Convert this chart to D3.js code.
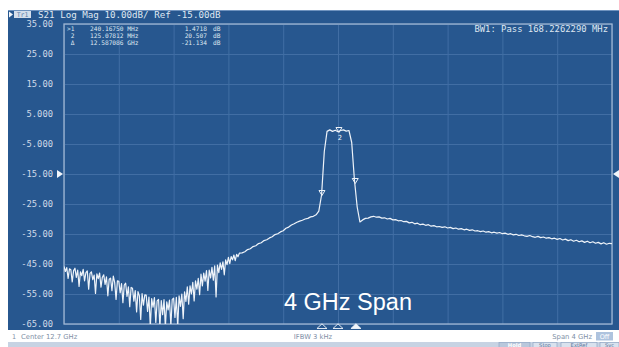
<!DOCTYPE html>
<html><head><meta charset="utf-8">
<script src="https://cdn.jsdelivr.net/npm/d3@7"></script>
<style>html,body{margin:0;padding:0;background:#fff;}svg{display:block;}</style>
</head><body>
<script>
// ---- data ----
// low band sweep: 10.70 .. 11.98 GHz, 0.01 GHz step (129 points)
const lowBandStartGHz = 10.7, lowBandStepGHz = 0.01;
const lowBandDb = [
-45.8,-47.5,-46.2,-49.8,-46.6,-46.9,-51.0,-47.2,-46.4,-49.5,
-47.0,-52.5,-47.6,-48.9,-46.8,-50.6,-47.9,-47.3,-53.4,-48.1,
-47.6,-50.2,-48.7,-54.8,-48.3,-49.9,-48.0,-52.7,-49.4,-48.6,
-51.8,-49.3,-55.6,-50.1,-49.7,-53.9,-49.0,-51.2,-56.8,-50.6,
-50.8,-54.6,-51.5,-57.9,-52.0,-51.4,-55.8,-52.6,-59.2,-52.8,
-53.1,-57.4,-53.9,-61.0,-54.2,-55.6,-63.5,-54.9,-58.7,-55.3,
-55.4,-60.8,-56.0,-66.0,-56.5,-59.4,-56.2,-64.5,-57.3,-56.8,
-66.0,-57.2,-61.9,-56.9,-66.0,-57.6,-60.3,-57.0,-65.5,-56.8,
-56.4,-62.8,-56.1,-66.0,-55.6,-59.1,-55.0,-63.2,-54.3,-57.5,
-52.6,-58.4,-52.3,-55.0,-51.1,-57.3,-50.6,-53.4,-49.8,-55.2,
-48.4,-52.3,-48.0,-50.7,-47.2,-53.8,-47.0,-49.6,-46.1,-50.4,
-45.6,-56.0,-45.4,-47.9,-44.6,-46.8,-44.3,-48.6,-43.6,-45.2,
-42.8,-44.9,-42.5,-43.6,-42.0,-43.9,-41.8,-42.6,-41.4];
// main sweep: 12.00 .. 14.70 GHz, 0.02 GHz step (136 points)
const mainStartGHz = 12.0, mainStepGHz = 0.02;
const mainDb = [
-41.3,-40.9,-40.2,-39.9,-39.2,
-38.9,-38.2,-37.9,-37.2,-36.9,-36.3,-35.9,-35.2,-34.9,-34.3,
-33.9,-33.1,-32.7,-32.0,-31.6,-31.1,-30.7,-30.4,-30.0,-29.8,
-29.3,-29.1,-28.6,-27.4,-22.0,-7.5,-0.8,-0.3,-0.8,-0.4,
-0.9,-0.5,-0.3,-0.7,-0.5,-4.5,-17.0,-26.0,-31.0,-30.3,
-29.8,-29.7,-29.3,-29.1,-29.4,-29.3,-29.7,-29.6,-30.0,-29.8,
-30.3,-30.2,-30.6,-30.5,-30.9,-30.8,-31.3,-31.1,-31.6,-31.4,
-31.9,-31.7,-32.1,-31.9,-32.4,-32.2,-32.6,-32.5,-32.8,-32.6,
-33.0,-32.8,-33.2,-33.0,-33.4,-33.2,-33.6,-33.4,-33.8,-33.6,
-34.0,-33.9,-34.2,-34.0,-34.4,-34.2,-34.6,-34.4,-34.7,-34.5,
-34.9,-34.7,-35.1,-34.9,-35.3,-35.1,-35.5,-35.3,-35.6,-35.8,
-35.5,-35.9,-36.1,-35.8,-36.2,-36.0,-36.4,-36.2,-36.6,-36.4,
-36.8,-36.5,-37.0,-36.7,-37.2,-36.9,-37.4,-37.1,-37.6,-37.3,
-37.8,-37.4,-37.9,-37.6,-38.1,-37.8,-38.3,-37.9,-38.4,-38.1,
-38.2];
const yTickValues = [35,25,15,5,-5,-15,-25,-35,-45,-55,-65];
const yTickLabels = ["35.00","25.00","15.00","5.000","-5.000","-15.00","-25.00","-35.00","-45.00","-55.00","-65.00"];
const xGridValues = [10.7,11.1,11.5,11.9,12.3,12.7,13.1,13.5,13.9,14.3,14.7];
const markerFreq = [12.707, 12.583, 12.826];
const markerDb   = [-0.5, -21.5, -17.5];
const markerTag  = ["2", "", ""];
const bottomMarkerFreq = [12.583, 12.7, 12.831];
const bottomMarkerActive = [false, false, true];
const markerRows = [[">1","240.16750 MHz","1.4718","dB"],[" 2","125.07812 MHz","20.507","dB"],[" \u0394","12.587086 GHz","-21.134","dB"]];
const titleText = "S21 Log Mag 10.00dB/ Ref -15.00dB";
const bwText = "BW1: Pass 168.2262290 MHz";
const refLevel = -15;
const spanLabel = "4 GHz Span";
const statusTexts = ["Center 12.7 GHz","IFBW 3 kHz","Span 4 GHz"];
const buttonLabels = ["Hold","Stop","ExtRef","Svc"];

// ---- drawing ----
const W = 619, H = 347;
const BG = "#27578f", GRID = "#416ea4", BORDER = "#9fb6d3", TXT = "#cfdae8";
const svg = d3.select("body").append("svg").attr("width", W).attr("height", H);
const x = d3.scaleLinear().domain([10.7, 14.7]).range([64, 612]);
const y = d3.scaleLinear().domain([-65, 35]).range([324, 24]);
const mono = "'DejaVu Sans Mono', monospace";

svg.append("rect").attr("x", 8).attr("y", 10).attr("width", W - 8).attr("height", 320).attr("fill", BG);
svg.append("line").attr("x1", 8).attr("x2", W).attr("y1", 10.5).attr("y2", 10.5).attr("stroke", "#6f93bf").attr("stroke-width", 1);

// grid via axes
const gy = svg.append("g").attr("transform", "translate(64,0)")
  .call(d3.axisLeft(y).tickValues(yTickValues).tickSize(-548).tickFormat((d, i) => yTickLabels[i]).tickPadding(10));
gy.select(".domain").remove();
gy.selectAll(".tick line").attr("stroke", GRID).attr("stroke-width", 1);
gy.selectAll(".tick text").attr("fill", TXT).attr("font-family", mono).attr("font-size", 8.8).attr("x", -11);

const gx = svg.append("g").attr("transform", "translate(0,324)")
  .call(d3.axisBottom(x).tickValues(xGridValues).tickSize(-300).tickFormat(""));
gx.select(".domain").remove();
gx.selectAll(".tick line").attr("stroke", GRID).attr("stroke-width", 1);

svg.append("rect").attr("x", 64).attr("y", 24).attr("width", 548).attr("height", 300)
  .attr("fill", "none").attr("stroke", BORDER).attr("stroke-width", 1.3);

// trace
svg.append("clipPath").attr("id", "clip").append("rect").attr("x", 64).attr("y", 24).attr("width", 548).attr("height", 300);
const pts = lowBandDb.map((v, j) => [lowBandStartGHz + j * lowBandStepGHz, v])
  .concat(mainDb.map((v, i) => [mainStartGHz + i * mainStepGHz, v]));
svg.append("path").attr("clip-path", "url(#clip)").datum(pts)
  .attr("d", d3.line().x(d => x(d[0])).y(d => y(d[1])))
  .attr("fill", "none").attr("stroke", "#eef3f9").attr("stroke-width", 1.2).attr("stroke-linejoin", "round");

// trace markers
markerFreq.forEach((f, i) => {
  const mx = x(f), my = y(markerDb[i]);
  svg.append("path").attr("d", `M${mx-3},${my-3}L${mx+3},${my-3}L${mx},${my+2}Z`)
    .attr("fill", "none").attr("stroke", "#eef3f9").attr("stroke-width", 1);
  if (markerTag[i]) svg.append("text").attr("x", mx + 1).attr("y", my + 9).attr("text-anchor", "middle")
    .attr("font-family", mono).attr("font-size", 7).attr("fill", "#eef3f9").text(markerTag[i]);
});

// reference level arrows
const ry = y(refLevel);
svg.append("path").attr("d", `M57,${ry-4}L63,${ry}L57,${ry+4}Z`).attr("fill", "#f2f6fb");
svg.append("path").attr("d", `M619,${ry-4}L613,${ry}L619,${ry+4}Z`).attr("fill", "#f2f6fb");

// bottom marker triangles
bottomMarkerFreq.forEach((f, i) => {
  const bx = x(f);
  svg.append("path").attr("d", `M${bx-5},328.5L${bx+5},328.5L${bx},323.8Z`)
    .attr("fill", bottomMarkerActive[i] ? "#f2f6fb" : "none").attr("stroke", "#f2f6fb").attr("stroke-width", 0.9);
});

// title row
svg.append("path").attr("d", "M9,11.5L13,14.5L9,17.5Z").attr("fill", "#f2f6fb");
svg.append("rect").attr("x", 14).attr("y", 11).attr("width", 17).attr("height", 7).attr("fill", "#d4deeb");
svg.append("text").attr("x", 22.5).attr("y", 17).attr("text-anchor", "middle").attr("font-family", mono)
  .attr("font-size", 6.5).attr("fill", "#5a7eab").text("Tr1");
svg.append("text").attr("x", 38).attr("y", 17.5).attr("font-family", mono).attr("font-size", 9.2)
  .attr("fill", "#dfe7f1").attr("xml:space", "preserve").text(titleText);

// marker readout
markerRows.forEach((r, i) => {
  const ty = 31 + i * 7;
  const t = (xx, s, anchor) => svg.append("text").attr("x", xx).attr("y", ty).attr("text-anchor", anchor || "start")
    .attr("font-family", mono).attr("font-size", 6.2).attr("fill", "#dfe7f1").attr("xml:space", "preserve").text(s);
  t(67, r[0]); t(90, r[1]); t(207, r[2], "end"); t(213, r[3]);
});
svg.append("text").attr("x", 608).attr("y", 31.5).attr("text-anchor", "end").attr("font-family", mono)
  .attr("font-size", 8.9).attr("fill", "#dfe7f1").text(bwText);

// big label
svg.append("text").attr("x", 348).attr("y", 310).attr("text-anchor", "middle")
  .attr("font-family", "'Liberation Sans', Arial, sans-serif").attr("font-size", 23.5).attr("fill", "#ffffff").text(spanLabel);

// status line
const ST = "#8190a6", SANS = "'DejaVu Sans', sans-serif";
svg.append("text").attr("x", 12).attr("y", 339).attr("font-family", SANS).attr("font-size", 6.5).attr("fill", ST).text("1");
svg.append("text").attr("x", 21).attr("y", 339).attr("font-family", SANS).attr("font-size", 6.8).attr("fill", ST).text(statusTexts[0]);
svg.append("text").attr("x", 313).attr("y", 339).attr("text-anchor", "middle").attr("font-family", SANS).attr("font-size", 6.8).attr("fill", ST).text(statusTexts[1]);
svg.append("text").attr("x", 592).attr("y", 339).attr("text-anchor", "end").attr("font-family", SANS).attr("font-size", 6.8).attr("fill", ST).text(statusTexts[2]);
svg.append("rect").attr("x", 596).attr("y", 332).attr("width", 17).attr("height", 8.5).attr("fill", "#aec3de");
svg.append("text").attr("x", 604.5).attr("y", 339).attr("text-anchor", "middle").attr("font-family", SANS).attr("font-size", 6.5).attr("fill", "#ffffff").text("Off");

// bottom button bar
svg.append("rect").attr("x", 8).attr("y", 342).attr("width", W - 8).attr("height", 5).attr("fill", "#c7d3e3");
const bx0 = [499, 533, 561, 600], bw = [31, 24, 36, 19];
buttonLabels.forEach((b, i) => {
  svg.append("rect").attr("x", bx0[i]).attr("y", 342.5).attr("width", bw[i]).attr("height", 6).attr("fill", i === 0 ? "#b9c8dc" : "#d9e2ee").attr("stroke", "#93a8c5").attr("stroke-width", 0.7);
  svg.append("text").attr("x", bx0[i] + bw[i] / 2).attr("y", 346.8).attr("text-anchor", "middle").attr("font-family", SANS)
    .attr("font-size", 5.2).attr("font-weight", i === 0 ? "bold" : "normal").attr("fill", i === 0 ? "#ffffff" : "#5d7599").text(b);
});
</script>
</body></html>
